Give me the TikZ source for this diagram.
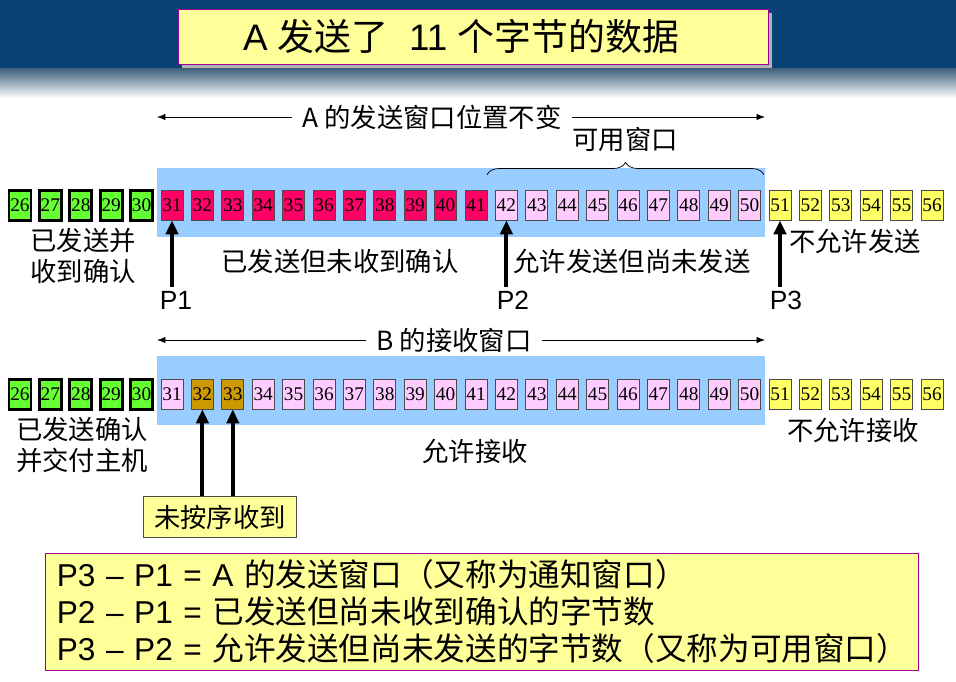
\documentclass[tikz,border=0pt]{standalone}
\usepackage{fontspec}
\setmainfont{Liberation Sans}
\newfontfamily\cjk{Noto Sans CJK SC}
\newfontfamily\numfont{Liberation Serif}
\usetikzlibrary{calc,arrows.meta,positioning,decorations.pathreplacing,shapes}
\definecolor{hdrblue}{RGB}{8,66,116}
\definecolor{ackgreen}{RGB}{102,255,51}
\definecolor{sentred}{RGB}{255,0,102}
\definecolor{freepink}{RGB}{255,204,255}
\definecolor{nopeyellow}{RGB}{255,255,102}
\definecolor{oosgold}{RGB}{204,153,0}
\definecolor{winblue}{RGB}{153,204,255}
\definecolor{noteyellow}{RGB}{255,255,153}
\definecolor{notepurple}{RGB}{153,0,153}

\begin{document}
\begin{tikzpicture}[x=0.02cm,y=-0.02cm,>=Latex,
    cell/.style={draw=gray!60!black,minimum width=0.44cm,minimum height=0.6cm,
                 inner sep=0pt,font=\numfont\fontsize{11}{11}\selectfont},
    done/.style={cell,fill=ackgreen,draw=black,line width=1.7pt},
    sent/.style={cell,fill=sentred},
    usable/.style={cell,fill=freepink},
    nope/.style={cell,fill=nopeyellow},
    lbl/.style={font=\cjk\fontsize{15}{17.5}\selectfont,inner sep=1pt},
    plbl/.style={font=\fontsize{15}{17}\selectfont,inner sep=1pt},
    ptr/.style={line width=2.2pt,-{Triangle[length=8pt,width=7pt]}},
    note/.style={draw=notepurple,fill=noteyellow}]
  \useasboundingbox (0,0) rectangle (956,681);
  % header band
  \fill[hdrblue] (0,0) rectangle (956,68);
  \shade[top color=hdrblue!55!gray,bottom color=white] (0,68) rectangle (956,98);
  \fill[gray!60] (182,13) rectangle (772,68);
  \filldraw[note] (178,9) rectangle (768,64);
  \node[font=\fontsize{21}{21}\selectfont] (title) at (461,36)
        {A {\cjk 发送了}\ \ 11 {\cjk 个字节的数据}};

  % sender side
  \fill[winblue] (157,168) rectangle (765,237);
  \foreach \i in {26,...,30}
    \node[done] (a\i) at ({20+(\i-26)*30.4},205) {\i};
  \foreach \i in {31,...,41}
    \node[sent] (a\i) at ({20+(\i-26)*30.4},205) {\i};
  \foreach \i in {42,...,50}
    \node[usable] (a\i) at ({20+(\i-26)*30.4},205) {\i};
  \foreach \i in {51,...,56}
    \node[nope] (a\i) at ({20+(\i-26)*30.4},205) {\i};

  \coordinate (awl) at (157,117);
  \coordinate (awr) at (765,117);
  \draw[<->] (awl) -- (awr);
  \node[lbl,fill=white,inner xsep=6pt] (awin) at (432,117) {A {\cjk 的发送窗口位置不变}};
  \draw[decorate,decoration={brace,amplitude=7pt}] ($(a42.north west)+(-8,-15)$)
        -- ($(a50.north east)+(3,-15)$);
  \node[lbl] (avail) at (625,139) {可用窗口};

  \node[lbl,align=center] (ackd) at (83,256) {已发送并\\收到确认};
  \node[lbl] (unack) at (340,261) {已发送但未收到确认};
  \node[lbl] (canst) at (632,261) {允许发送但尚未发送};
  \node[lbl] (cant) at (855,241) {不允许发送};

  \node[plbl] (p1) at (176,300) {P1};
  \node[plbl] (p2) at (513,300) {P2};
  \node[plbl] (p3) at (786,300) {P3};
  \draw[ptr] (p1.north -| a31) ++(0,-2) -- (a31.south);
  \draw[ptr] (p2.north -| a42) ++(0,-2) -- (a42.south);
  \draw[ptr] (p3.north -| a51) ++(0,-2) -- (a51.south);

  % receiver side
  \fill[winblue] (157,356) rectangle (765,425);
  \foreach \i in {26,...,30}
    \node[done] (b\i) at ({20+(\i-26)*30.4},394) {\i};
  \foreach \i in {31,34,35,...,50}
    \node[usable] (b\i) at ({20+(\i-26)*30.4},394) {\i};
  \foreach \i in {32,33}
    \node[cell,fill=oosgold] (b\i) at ({20+(\i-26)*30.4},394) {\i};
  \foreach \i in {51,...,56}
    \node[nope] (b\i) at ({20+(\i-26)*30.4},394) {\i};

  \coordinate (bwl) at (157,340);
  \coordinate (bwr) at (765,340);
  \draw[<->] (bwl) -- (bwr);
  \node[lbl,fill=white,inner xsep=6pt] (bwin) at (454,340) {B {\cjk 的接收窗口}};

  \node[lbl,align=center] (deliv) at (82,445) {已发送确认\\并交付主机};
  \node[lbl] (okrcv) at (475,451) {允许接收};
  \node[lbl] (norcv) at (853,430) {不允许接收};

  \node[note,lbl,draw=gray!60!black,minimum width=3.06cm,minimum height=0.82cm] (oos)
        at (220,517) {未按序收到};
  \draw[ptr] (oos.north -| b32) -- (b32.south);
  \draw[ptr] (oos.north -| b33) -- (b33.south);

  % summary
  \node[note,anchor=north west,minimum width=17.46cm,minimum height=2.34cm,
        text width=17.0cm,inner xsep=0.23cm,align=left,
        font=\fontsize{18}{21}\selectfont] (sum) at (45,553)
        {P3 – P1 = A {\cjk 的发送窗口（又称为通知窗口）}\\
         P2 – P1 = {\cjk 已发送但尚未收到确认的字节数}\\
         P3 – P2 = {\cjk 允许发送但尚未发送的字节数（又称为可用窗口）}};
\end{tikzpicture}
\end{document}
